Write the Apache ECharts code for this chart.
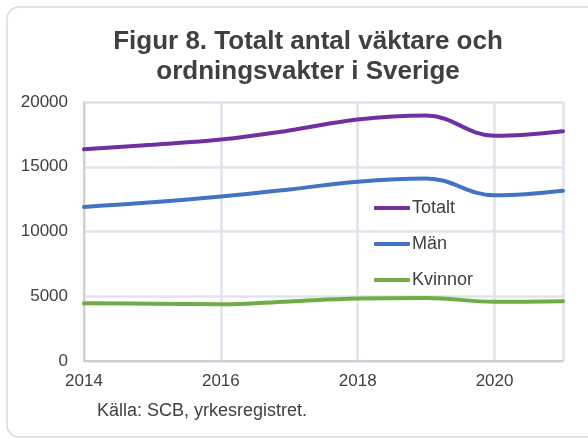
<!DOCTYPE html>
<html>
<head>
    <meta charset="UTF-8" />
    <title>Figur 8</title>
    <script src="https://cdn.jsdelivr.net/npm/echarts@6/dist/echarts.min.js"></script>
    <style>
        html, body { margin: 0; padding: 0; background: #fff; }
        #chart { width: 588px; height: 439px; }
    </style>
</head>
<body>
<div id="chart"></div>
<script>
    // data
    var years = [2014, 2015, 2016, 2017, 2018, 2019, 2020, 2021];
    var totalt = [16350, 16700, 17100, 17800, 18650, 18950, 17400, 17750];
    var man = [11900, 12250, 12700, 13250, 13850, 14100, 12800, 13150];
    var kvinnor = [4450, 4420, 4380, 4600, 4820, 4870, 4570, 4620];
    var seriesNames = ['Totalt', 'Män', 'Kvinnor'];
    var colors = ['#7030a0', '#4472c4', '#70ad47'];

    function pairs(vals) {
        var out = [];
        for (var i = 0; i < years.length; i++) out.push([years[i], vals[i]]);
        return out;
    }

    var font = 'Liberation Sans, Arial, sans-serif';
    var gridColor = '#dfe4ec';

    var chart = echarts.init(document.getElementById('chart'));
    var allVals = [totalt, man, kvinnor];
    var series = [];
    for (var s = 0; s < seriesNames.length; s++) {
        series.push({
            name: seriesNames[s],
            type: 'line',
            data: pairs(allVals[s]),
            smooth: 0.4,
            symbol: 'none',
            lineStyle: { width: 4, color: colors[s], cap: 'round' },
            itemStyle: { color: colors[s] }
        });
    }

    chart.setOption({
        animation: false,
        title: {
            text: 'Figur 8. Totalt antal väktare och\nordningsvakter i Sverige',
            left: 303,
            top: 22,
            textAlign: 'center',
            textStyle: { fontFamily: font, fontSize: 26, fontWeight: 'bold', color: '#404040', lineHeight: 30 }
        },
        graphic: [
            {
                type: 'rect',
                shape: { x: 7, y: 7, width: 620, height: 430, r: 12 },
                style: { fill: 'none', stroke: '#dadada', lineWidth: 1.5 },
                z: -1
            },
            {
                type: 'text',
                left: 97,
                top: 402,
                style: { text: 'Källa: SCB, yrkesregistret.', font: '18px ' + font, fill: '#404040' }
            }
        ],
        legend: {
            orient: 'vertical',
            left: 369,
            top: 193,
            icon: 'roundRect',
            itemWidth: 36,
            itemHeight: 4,
            itemGap: 16,
            textStyle: { fontFamily: font, fontSize: 18, lineHeight: 20, color: '#404040', padding: [0, 0, 0, -3] },
            data: seriesNames
        },
        grid: { left: 84, right: 25, top: 102, bottom: 78, containLabel: false },
        xAxis: {
            type: 'value',
            min: 2014,
            max: 2021,
            interval: 2,
            axisLine: { show: true, lineStyle: { color: '#c8c8c8', width: 1.5 } },
            axisTick: { show: false },
            axisLabel: { fontFamily: font, fontSize: 17, color: '#404040', margin: 12, showMaxLabel: false, formatter: function (v) { return String(v); } },
            splitLine: { show: true, lineStyle: { color: gridColor, width: 2.5 } }
        },
        yAxis: {
            type: 'value',
            min: 0,
            max: 20000,
            interval: 5000,
            axisLine: { show: true, lineStyle: { color: '#c8c8c8', width: 1.5 } },
            axisTick: { show: false },
            axisLabel: { fontFamily: font, fontSize: 17, color: '#404040', margin: 16, formatter: function (v) { return String(v); } },
            splitLine: { show: true, lineStyle: { color: gridColor, width: 2.5 } }
        },
        series: series
    });
</script>
</body>
</html>
